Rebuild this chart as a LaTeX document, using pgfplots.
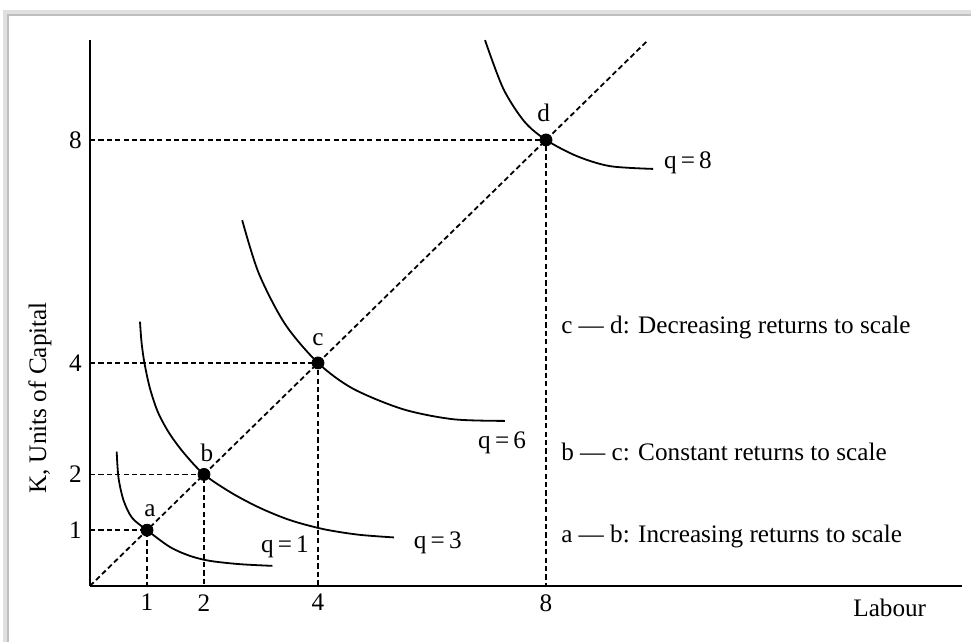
\documentclass[border=0pt,12pt]{standalone}
\usepackage{fontspec}
\setmainfont{Liberation Serif}
\usepackage{pgfplots}
\pgfplotsset{compat=1.18}
\begin{document}
\begin{tikzpicture}[font=\fontsize{12.6}{15}\selectfont]
\begin{axis}[
  x=28.5pt, y=27.875pt,
  xmin=0, xmax=15.3, ymin=0, ymax=9.8,
  axis x line=bottom, axis y line=left,
  axis line style={line width=1.3pt,-},
  xtick={1,2,4,8}, ytick={1,2,4,8},
  major tick length=0pt,
  /pgf/number format/assume math mode=true,
  clip=false,
  xlabel={Labour},
  xlabel style={at={(axis description cs:0.917,-0.04)},anchor=center},
  ylabel={K, Units of Capital},
  ylabel style={at={(axis description cs:-0.0575,0.344)},anchor=center},
]
% frame
\coordinate (bl) at (axis cs:-1.579,-1.0045);
\coordinate (tr) at (axis cs:15.456,10.51);
\draw[black!12,line width=3pt] (axis cs:-1.48,-1.2) -- (axis cs:-1.48,10.28) -- (axis cs:15.6,10.28);
\draw[black!25,line width=0.6pt] (axis cs:-1.439,-1.2) -- (axis cs:-1.439,10.24) -- (axis cs:15.6,10.24);
% guide lines
\pgfplotsset{guide/.style={line width=0.9pt, dash pattern=on 2.6pt off 1.6pt}}
\addplot[guide] coordinates {(0,0) (9.78,9.78)};
\addplot[guide] coordinates {(0,1) (1,1) (1,0)};
\addplot[guide] coordinates {(0,2) (2,2) (2,0)};
\addplot[guide] coordinates {(0,4) (4,4) (4,0)};
\addplot[guide] coordinates {(0,8) (8,8) (8,0)};
% isoquants
\addplot[smooth, line width=0.9pt] coordinates {(0.468,2.41) (0.50,1.94) (0.59,1.53) (0.74,1.22) (1,1) (1.40,0.70) (1.75,0.54) (2.10,0.45) (2.63,0.39) (3.20,0.36)};
\addplot[smooth, line width=0.9pt] coordinates {(0.877,4.74) (0.905,4.36) (0.955,4.00) (1.05,3.55) (1.19,3.12) (1.39,2.74) (1.65,2.38) (2,2) (2.48,1.67) (2.98,1.40) (3.51,1.18) (4.09,1.02) (4.7,0.92) (5.33,0.87)};
\addplot[smooth, line width=0.9pt] coordinates {(2.67,6.56) (2.96,5.61) (3.42,4.70) (4,4) (4.61,3.54) (5.49,3.17) (6.37,2.99) (7.28,2.96)};
\addplot[smooth, line width=0.9pt] coordinates {(6.93,9.79) (7.25,8.92) (7.62,8.33) (8,8) (8.54,7.71) (9.12,7.53) (9.88,7.48)};
% points
\addplot[only marks, mark=*, mark size=3pt] coordinates {(1,1) (2,2) (4,4) (8,8)};
% labels
\node at (axis cs:1.05,1.35) {a};
\node at (axis cs:2.05,2.39) {b};
\node at (axis cs:4.0,4.41) {c};
\node at (axis cs:7.96,8.48) {d};
\node at (axis cs:3.42,0.70) {q\,=\,1};
\node at (axis cs:6.10,0.77) {q\,=\,3};
\node at (axis cs:7.23,2.57) {q\,=\,6};
\node at (axis cs:10.49,7.59) {q\,=\,8};
\node[anchor=west] at (axis cs:8.12,4.63) {c --- d: Decreasing returns to scale};
\node[anchor=west] at (axis cs:8.12,2.40) {b --- c: Constant returns to scale};
\node[anchor=west] at (axis cs:8.12,0.88) {a --- b: Increasing returns to scale};
\end{axis}
\pgfresetboundingbox
\useasboundingbox (bl) rectangle (tr);
\end{tikzpicture}
\end{document}
